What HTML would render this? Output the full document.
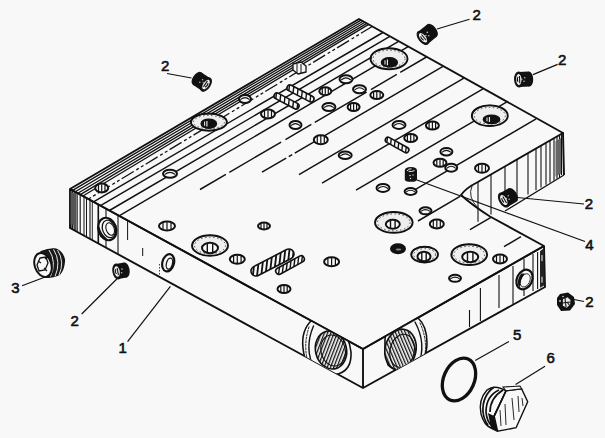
<!DOCTYPE html>
<html><head><meta charset="utf-8"><style>
html,body{margin:0;padding:0;background:#f8f8f8;}
svg{display:block;}
text{font-family:"Liberation Sans",sans-serif;fill:#111;stroke:#111;stroke-width:0.6px;}
</style></head><body>
<svg width="605" height="438" viewBox="0 0 605 438">
<defs><clipPath id="sc1"><rect transform="translate(286.5 101.0) rotate(27.8)" x="-13.7" y="-3.0" width="27.5" height="6.0" rx="3.0"/></clipPath><clipPath id="sc2"><rect transform="translate(300.5 93.5) rotate(27.6)" x="-14.9" y="-3.0" width="29.7" height="6.0" rx="3.0"/></clipPath><clipPath id="sc3"><rect transform="translate(397.0 145.0) rotate(29.1)" x="-13.0" y="-2.8" width="26.1" height="5.5" rx="2.8"/></clipPath><clipPath id="sc4"><rect transform="translate(272.5 262.5) rotate(-27.3)" x="-23.6" y="-5.0" width="47.1" height="10.0" rx="5.0"/></clipPath><clipPath id="sc5"><rect transform="translate(290.0 265.0) rotate(-28.6)" x="-15.8" y="-3.2" width="31.6" height="6.5" rx="3.2"/></clipPath><pattern id="hd1" width="3" height="3" patternUnits="userSpaceOnUse" patternTransform="rotate(35)"><rect width="3" height="3" fill="#f8f8f8"/><rect width="1.3" height="3" fill="#111"/></pattern><pattern id="hd2" width="3" height="3" patternUnits="userSpaceOnUse" patternTransform="rotate(-35)"><rect width="3" height="3" fill="#f8f8f8"/><rect width="1.3" height="3" fill="#111"/></pattern><pattern id="hd3" width="2.6" height="3" patternUnits="userSpaceOnUse" patternTransform="rotate(20)"><rect width="2.6" height="3" fill="#f8f8f8"/><rect width="1.4" height="3" fill="#111"/></pattern><clipPath id="sideclip"><polygon points="70,189 363,349 544,246 545,287 363,388 70,228"/></clipPath></defs>
<rect width="605" height="438" fill="#f8f8f8"/>
<polygon points="70.0,189.0 359.0,19.0 563.0,133.0 477.0,182.5 461.0,195.0 490.0,217.0 544.0,246.0 363.0,349.0" fill="#f8f8f8" stroke="#111" stroke-width="0" stroke-linejoin="round" />
<polygon points="70.0,189.0 363.0,349.0 363.0,388.0 70.0,228.0" fill="#f8f8f8" stroke="#111" stroke-width="0" stroke-linejoin="round" />
<polygon points="363.0,349.0 544.0,246.0 545.0,287.0 363.0,388.0" fill="#f8f8f8" stroke="#111" stroke-width="0" stroke-linejoin="round" />
<line x1="72.6" y1="190.4" x2="361.0" y2="20.1" stroke="#111" stroke-width="1.3" />
<line x1="75.2" y1="191.8" x2="362.9" y2="21.2" stroke="#111" stroke-width="1.3" />
<line x1="77.8" y1="193.2" x2="364.9" y2="22.3" stroke="#111" stroke-width="1.3" />
<line x1="80.3" y1="194.6" x2="366.8" y2="23.4" stroke="#111" stroke-width="1.3" />
<line x1="82.9" y1="196.0" x2="368.7" y2="24.4" stroke="#111" stroke-width="1.3" />
<line x1="88.4" y1="199.0" x2="372.2" y2="26.5" stroke="#111" stroke-width="1.3" stroke-dasharray="3 2.5 3 2.5 14 3"/>
<line x1="93.5" y1="201.8" x2="382.9" y2="32.5" stroke="#111" stroke-width="1.45" />
<line x1="100.5" y1="205.7" x2="389.9" y2="36.4" stroke="#111" stroke-width="1.45" />
<line x1="109.4" y1="210.5" x2="398.6" y2="41.3" stroke="#111" stroke-width="1.45" />
<line x1="119.1" y1="215.8" x2="408.2" y2="46.7" stroke="#111" stroke-width="1.45" />
<line x1="200.0" y1="189.5" x2="426.5" y2="57.0" stroke="#111" stroke-width="1.45" stroke-dasharray="30 4 60 5"/>
<line x1="262.0" y1="172.2" x2="443.0" y2="66.3" stroke="#111" stroke-width="1.45" stroke-dasharray="28 3 4 3 200"/>
<line x1="299.0" y1="174.6" x2="463.9" y2="78.1" stroke="#111" stroke-width="1.45" />
<line x1="322.0" y1="183.1" x2="483.0" y2="88.9" stroke="#111" stroke-width="1.45" />
<line x1="356.0" y1="190.2" x2="506.5" y2="102.2" stroke="#111" stroke-width="1.45" />
<line x1="410.0" y1="192.7" x2="536.1" y2="118.9" stroke="#111" stroke-width="1.45" />
<line x1="418.0" y1="221.0" x2="460.0" y2="196.4" stroke="#111" stroke-width="1.45" />
<line x1="470.0" y1="229.6" x2="491.0" y2="217.3" stroke="#111" stroke-width="1.45" />
<line x1="504.0" y1="246.7" x2="521.0" y2="236.7" stroke="#111" stroke-width="1.45" />
<polyline points="70.0,228.0 70.0,189.0 359.0,19.0 563.0,133.0 564.0,175.0" fill="none" stroke="#111" stroke-width="1.9" stroke-linejoin="round" />
<path d="M563,133 L477,182.5 Q466,188 461,195 Q472,205 490,216.5 L544,246 L545,287 L363,388 L70,228" fill="none" stroke="#111" stroke-width="1.9" stroke-linejoin="round" stroke-linecap="round" />
<polyline points="70.0,189.0 363.0,349.0 544.0,246.0" fill="none" stroke="#111" stroke-width="1.9" stroke-linejoin="round" />
<line x1="363.0" y1="349.0" x2="363.0" y2="388.0" stroke="#111" stroke-width="1.9" />
<line x1="564.0" y1="175.0" x2="505.0" y2="211.0" stroke="#111" stroke-width="1.3" />
<line x1="71.0" y1="190.0" x2="71.0" y2="228.5" stroke="#111" stroke-width="1.3" />
<line x1="72.6" y1="190.9" x2="72.6" y2="229.4" stroke="#111" stroke-width="1.1" />
<line x1="74.2" y1="191.8" x2="74.2" y2="230.3" stroke="#111" stroke-width="1.1" />
<line x1="75.8" y1="192.7" x2="75.8" y2="231.2" stroke="#111" stroke-width="1.0" />
<line x1="77.2" y1="193.4" x2="77.2" y2="231.9" stroke="#111" stroke-width="1.0" />
<line x1="80.2" y1="195.1" x2="80.2" y2="233.6" stroke="#111" stroke-width="1.1" />
<line x1="84.0" y1="197.1" x2="84.0" y2="235.6" stroke="#111" stroke-width="1.0" />
<line x1="86.5" y1="198.5" x2="86.5" y2="237.0" stroke="#111" stroke-width="1.0" />
<line x1="90.0" y1="200.4" x2="90.0" y2="238.9" stroke="#111" stroke-width="1.1" />
<line x1="92.3" y1="201.7" x2="92.3" y2="240.2" stroke="#111" stroke-width="0.9" />
<line x1="98.3" y1="205.0" x2="98.3" y2="243.5" stroke="#111" stroke-width="1.6" />
<polygon points="70.5,191.3 76.0,195.3 76.0,225.3 70.5,224.3" fill="#555" stroke="#111" stroke-width="0" stroke-linejoin="round" />
<line x1="106.0" y1="208.7" x2="106.0" y2="247.7" stroke="#111" stroke-width="1.1" />
<line x1="118.0" y1="215.2" x2="118.0" y2="254.2" stroke="#111" stroke-width="1.1" />
<line x1="127.6" y1="220.5" x2="127.6" y2="240.0" stroke="#111" stroke-width="1.0" />
<line x1="478.0" y1="182.0" x2="478.0" y2="221.7" stroke="#111" stroke-width="1.1" />
<line x1="491.0" y1="174.6" x2="491.0" y2="214.6" stroke="#111" stroke-width="1.1" />
<line x1="505.0" y1="166.6" x2="505.0" y2="207.0" stroke="#111" stroke-width="1.1" />
<line x1="517.0" y1="159.8" x2="517.0" y2="200.5" stroke="#111" stroke-width="1.1" />
<line x1="528.0" y1="153.5" x2="528.0" y2="194.5" stroke="#111" stroke-width="1.1" />
<line x1="536.0" y1="148.9" x2="536.0" y2="190.2" stroke="#111" stroke-width="1.1" />
<line x1="541.0" y1="146.1" x2="541.0" y2="187.5" stroke="#111" stroke-width="1.1" />
<line x1="546.0" y1="143.2" x2="546.0" y2="184.8" stroke="#111" stroke-width="1.1" />
<line x1="550.0" y1="140.9" x2="550.0" y2="182.6" stroke="#111" stroke-width="1.1" />
<line x1="554.0" y1="138.6" x2="554.0" y2="180.4" stroke="#111" stroke-width="1.1" />
<line x1="557.0" y1="136.9" x2="557.0" y2="178.8" stroke="#111" stroke-width="1.1" />
<line x1="559.5" y1="135.5" x2="559.5" y2="177.4" stroke="#111" stroke-width="1.1" />
<line x1="561.5" y1="133.0" x2="561.5" y2="175.0" stroke="#111" stroke-width="1.2" />
<polygon points="555.5,141.3 561.0,138.1 561.0,173.6 555.5,176.6" fill="#666" stroke="#111" stroke-width="0" stroke-linejoin="round" />
<path d="M472,186 Q467,197 478,208" fill="none" stroke="#111" stroke-width="0.9" stroke-linejoin="round" stroke-linecap="round" />
<line x1="469.5" y1="310.0" x2="469.5" y2="327.0" stroke="#111" stroke-width="1.1" />
<line x1="480.4" y1="288.0" x2="480.4" y2="321.0" stroke="#111" stroke-width="1.1" />
<line x1="499.0" y1="275.0" x2="499.0" y2="308.0" stroke="#111" stroke-width="1.1" />
<line x1="513.0" y1="266.0" x2="513.0" y2="304.0" stroke="#111" stroke-width="1.1" />
<line x1="524.0" y1="259.0" x2="524.0" y2="296.0" stroke="#111" stroke-width="1.1" />
<line x1="533.0" y1="254.0" x2="533.0" y2="291.0" stroke="#111" stroke-width="1.1" />
<line x1="537.6" y1="252.0" x2="537.6" y2="289.0" stroke="#111" stroke-width="1.1" />
<line x1="142.7" y1="248.0" x2="142.7" y2="256.0" stroke="#111" stroke-width="1.0" />
<line x1="159.5" y1="264.0" x2="159.5" y2="276.0" stroke="#111" stroke-width="0.8" stroke-dasharray="1.5 1.5"/>
<text x="161" y="70.5" font-size="15">2</text>
<text x="472.5" y="20" font-size="15">2</text>
<text x="558" y="65" font-size="15">2</text>
<text x="584.7" y="209.2" font-size="15">2</text>
<text x="585.2" y="249.5" font-size="15">4</text>
<text x="585.3" y="306.5" font-size="15">2</text>
<text x="11.3" y="293" font-size="15">3</text>
<text x="70.5" y="326" font-size="15">2</text>
<text x="118.5" y="353" font-size="15">1</text>
<text x="513" y="340" font-size="15">5</text>
<text x="546.5" y="363" font-size="15">6</text>
<line x1="167.0" y1="73.5" x2="191.5" y2="78.0" stroke="#111" stroke-width="1.2" />
<line x1="437.0" y1="29.0" x2="469.5" y2="19.3" stroke="#111" stroke-width="1.2" />
<line x1="533.0" y1="74.6" x2="557.6" y2="64.4" stroke="#111" stroke-width="1.2" />
<line x1="512.0" y1="197.0" x2="584.0" y2="204.0" stroke="#111" stroke-width="1.2" />
<line x1="417.0" y1="180.0" x2="585.0" y2="241.5" stroke="#111" stroke-width="1.2" />
<line x1="574.0" y1="299.5" x2="584.0" y2="301.5" stroke="#111" stroke-width="1.2" />
<line x1="22.0" y1="285.8" x2="46.5" y2="276.5" stroke="#111" stroke-width="1.2" />
<line x1="81.7" y1="314.0" x2="116.8" y2="279.0" stroke="#111" stroke-width="1.2" />
<line x1="127.6" y1="341.7" x2="170.4" y2="286.4" stroke="#111" stroke-width="1.2" />
<line x1="475.2" y1="360.4" x2="508.9" y2="341.5" stroke="#111" stroke-width="1.2" />
<line x1="515.6" y1="384.6" x2="545.0" y2="366.3" stroke="#111" stroke-width="1.2" />
<ellipse cx="208.9" cy="122.1" rx="18.0" ry="8.6" fill="#eeeeee" stroke="#111" stroke-width="1.9" />
<ellipse cx="208.9" cy="122.1" rx="15.5" ry="6.6" fill="none" stroke="#111" stroke-width="0.7" stroke-dasharray="1.5 2.5"/>
<path d="M191.4,122.1 A17.5,8.1 0 0 1 217.9,114.78999999999999" fill="none" stroke="#111" stroke-width="1.2" stroke-linejoin="round" stroke-linecap="round" />
<ellipse cx="208.8" cy="123.7" rx="7.7" ry="4.6" fill="#111" stroke="#111" stroke-width="1.4" />
<line x1="206.9" y1="120.9" x2="206.9" y2="126.5" stroke="#f8f8f8" stroke-width="1.1" />
<line x1="204.6" y1="121.6" x2="204.6" y2="125.8" stroke="#f8f8f8" stroke-width="1.0" />
<ellipse cx="389.0" cy="58.7" rx="18.5" ry="10.5" fill="#eeeeee" stroke="#111" stroke-width="1.9" />
<ellipse cx="389.0" cy="58.7" rx="16.0" ry="8.5" fill="none" stroke="#111" stroke-width="0.7" stroke-dasharray="1.5 2.5"/>
<path d="M371.0,58.7 A18.0,10.0 0 0 1 398.25,49.775000000000006" fill="none" stroke="#111" stroke-width="1.2" stroke-linejoin="round" stroke-linecap="round" />
<ellipse cx="389.4" cy="62.4" rx="8.0" ry="4.6" fill="#111" stroke="#111" stroke-width="1.4" />
<line x1="387.4" y1="59.6" x2="387.4" y2="65.2" stroke="#f8f8f8" stroke-width="1.1" />
<line x1="385.0" y1="60.3" x2="385.0" y2="64.5" stroke="#f8f8f8" stroke-width="1.0" />
<ellipse cx="489.8" cy="115.7" rx="18.0" ry="10.3" fill="#eeeeee" stroke="#111" stroke-width="1.9" />
<ellipse cx="489.8" cy="115.7" rx="15.5" ry="8.3" fill="none" stroke="#111" stroke-width="0.7" stroke-dasharray="1.5 2.5"/>
<path d="M472.3,115.7 A17.5,9.8 0 0 1 498.8,106.94500000000001" fill="none" stroke="#111" stroke-width="1.2" stroke-linejoin="round" stroke-linecap="round" />
<ellipse cx="491.5" cy="119.4" rx="8.2" ry="4.2" fill="#111" stroke="#111" stroke-width="1.4" />
<line x1="489.4" y1="116.9" x2="489.4" y2="121.9" stroke="#f8f8f8" stroke-width="1.1" />
<line x1="487.0" y1="117.5" x2="487.0" y2="121.3" stroke="#f8f8f8" stroke-width="1.0" />
<ellipse cx="393.8" cy="222.4" rx="18.8" ry="10.4" fill="#eeeeee" stroke="#111" stroke-width="1.9" />
<ellipse cx="393.8" cy="222.4" rx="16.3" ry="8.4" fill="none" stroke="#111" stroke-width="0.7" stroke-dasharray="1.5 2.5"/>
<path d="M375.5,222.4 A18.3,9.9 0 0 1 403.2,213.56" fill="none" stroke="#111" stroke-width="1.2" stroke-linejoin="round" stroke-linecap="round" />
<ellipse cx="392.8" cy="224.3" rx="7.0" ry="4.5" fill="#f8f8f8" stroke="#111" stroke-width="2.0" />
<line x1="390.5" y1="220.7" x2="390.5" y2="227.9" stroke="#111" stroke-width="1.4" />
<line x1="395.1" y1="220.7" x2="395.1" y2="227.9" stroke="#111" stroke-width="1.4" />
<ellipse cx="210.0" cy="245.5" rx="18.0" ry="10.3" fill="#eeeeee" stroke="#111" stroke-width="1.9" />
<ellipse cx="210.0" cy="245.5" rx="15.5" ry="8.3" fill="none" stroke="#111" stroke-width="0.7" stroke-dasharray="1.5 2.5"/>
<path d="M192.5,245.5 A17.5,9.8 0 0 1 219.0,236.745" fill="none" stroke="#111" stroke-width="1.2" stroke-linejoin="round" stroke-linecap="round" />
<ellipse cx="210.0" cy="248.0" rx="8.0" ry="5.2" fill="#f8f8f8" stroke="#111" stroke-width="2.0" />
<line x1="207.3" y1="243.8" x2="207.3" y2="252.2" stroke="#111" stroke-width="1.4" />
<line x1="212.7" y1="243.8" x2="212.7" y2="252.2" stroke="#111" stroke-width="1.4" />
<ellipse cx="424.6" cy="254.6" rx="13.4" ry="7.9" fill="#eeeeee" stroke="#111" stroke-width="1.9" />
<ellipse cx="424.6" cy="254.6" rx="10.9" ry="5.9" fill="none" stroke="#111" stroke-width="0.7" stroke-dasharray="1.5 2.5"/>
<path d="M411.70000000000005,254.6 A12.9,7.4 0 0 1 431.3,247.885" fill="none" stroke="#111" stroke-width="1.2" stroke-linejoin="round" stroke-linecap="round" />
<ellipse cx="424.0" cy="256.5" rx="6.5" ry="4.8" fill="#f8f8f8" stroke="#111" stroke-width="2.0" />
<line x1="421.8" y1="252.7" x2="421.8" y2="260.3" stroke="#111" stroke-width="1.4" />
<line x1="426.2" y1="252.7" x2="426.2" y2="260.3" stroke="#111" stroke-width="1.4" />
<ellipse cx="469.2" cy="254.6" rx="17.9" ry="10.4" fill="#eeeeee" stroke="#111" stroke-width="1.9" />
<ellipse cx="469.2" cy="254.6" rx="15.4" ry="8.4" fill="none" stroke="#111" stroke-width="0.7" stroke-dasharray="1.5 2.5"/>
<path d="M451.8,254.6 A17.4,9.9 0 0 1 478.15,245.76" fill="none" stroke="#111" stroke-width="1.2" stroke-linejoin="round" stroke-linecap="round" />
<ellipse cx="470.2" cy="257.0" rx="8.0" ry="5.2" fill="#f8f8f8" stroke="#111" stroke-width="2.0" />
<line x1="467.5" y1="252.8" x2="467.5" y2="261.2" stroke="#111" stroke-width="1.4" />
<line x1="472.9" y1="252.8" x2="472.9" y2="261.2" stroke="#111" stroke-width="1.4" />
<ellipse cx="101.7" cy="188.0" rx="6.5" ry="4.5" fill="#f8f8f8" stroke="#111" stroke-width="2.0" />
<line x1="98.5" y1="184.7" x2="98.5" y2="191.3" stroke="#111" stroke-width="1.2" />
<line x1="101.7" y1="184.2" x2="101.7" y2="191.8" stroke="#111" stroke-width="1.2" />
<line x1="105.0" y1="184.7" x2="105.0" y2="191.3" stroke="#111" stroke-width="1.2" />
<ellipse cx="170.0" cy="173.8" rx="7.0" ry="4.0" fill="#f8f8f8" stroke="#111" stroke-width="2.0" />
<path d="M165.1,174.20000000000002 Q170,170.60000000000002 174.9,174.20000000000002" fill="none" stroke="#111" stroke-width="1.1" stroke-linejoin="round" stroke-linecap="round" />
<ellipse cx="167.0" cy="226.0" rx="8.0" ry="4.5" fill="#f8f8f8" stroke="#111" stroke-width="2.0" />
<line x1="163.0" y1="222.7" x2="163.0" y2="229.3" stroke="#111" stroke-width="1.2" />
<line x1="167.0" y1="222.2" x2="167.0" y2="229.8" stroke="#111" stroke-width="1.2" />
<line x1="171.0" y1="222.7" x2="171.0" y2="229.3" stroke="#111" stroke-width="1.2" />
<ellipse cx="245.0" cy="99.0" rx="6.0" ry="4.0" fill="#f8f8f8" stroke="#111" stroke-width="2.0" />
<path d="M240.8,99.4 Q245,95.8 249.2,99.4" fill="none" stroke="#111" stroke-width="1.1" stroke-linejoin="round" stroke-linecap="round" />
<ellipse cx="268.0" cy="114.0" rx="7.0" ry="4.5" fill="#f8f8f8" stroke="#111" stroke-width="2.0" />
<line x1="264.5" y1="110.7" x2="264.5" y2="117.3" stroke="#111" stroke-width="1.2" />
<line x1="268.0" y1="110.2" x2="268.0" y2="117.8" stroke="#111" stroke-width="1.2" />
<line x1="271.5" y1="110.7" x2="271.5" y2="117.3" stroke="#111" stroke-width="1.2" />
<ellipse cx="295.5" cy="125.0" rx="6.0" ry="4.0" fill="#f8f8f8" stroke="#111" stroke-width="2.0" />
<path d="M291.3,125.4 Q295.5,121.8 299.7,125.4" fill="none" stroke="#111" stroke-width="1.1" stroke-linejoin="round" stroke-linecap="round" />
<ellipse cx="325.3" cy="91.2" rx="6.0" ry="4.0" fill="#f8f8f8" stroke="#111" stroke-width="2.0" />
<line x1="322.3" y1="88.3" x2="322.3" y2="94.1" stroke="#111" stroke-width="1.2" />
<line x1="325.3" y1="87.8" x2="325.3" y2="94.6" stroke="#111" stroke-width="1.2" />
<line x1="328.3" y1="88.3" x2="328.3" y2="94.1" stroke="#111" stroke-width="1.2" />
<ellipse cx="328.9" cy="107.0" rx="6.5" ry="4.0" fill="#f8f8f8" stroke="#111" stroke-width="2.0" />
<path d="M324.34999999999997,107.4 Q328.9,103.8 333.45,107.4" fill="none" stroke="#111" stroke-width="1.1" stroke-linejoin="round" stroke-linecap="round" />
<ellipse cx="320.8" cy="139.8" rx="7.0" ry="4.5" fill="#f8f8f8" stroke="#111" stroke-width="2.0" />
<line x1="317.3" y1="136.5" x2="317.3" y2="143.1" stroke="#111" stroke-width="1.2" />
<line x1="320.8" y1="136.0" x2="320.8" y2="143.6" stroke="#111" stroke-width="1.2" />
<line x1="324.3" y1="136.5" x2="324.3" y2="143.1" stroke="#111" stroke-width="1.2" />
<ellipse cx="346.0" cy="79.3" rx="6.5" ry="4.0" fill="#f8f8f8" stroke="#111" stroke-width="2.0" />
<path d="M341.45,79.7 Q346,76.1 350.55,79.7" fill="none" stroke="#111" stroke-width="1.1" stroke-linejoin="round" stroke-linecap="round" />
<ellipse cx="345.2" cy="155.2" rx="6.5" ry="3.8" fill="#f8f8f8" stroke="#111" stroke-width="2.0" />
<path d="M340.65,155.57999999999998 Q345.2,152.16 349.75,155.57999999999998" fill="none" stroke="#111" stroke-width="1.1" stroke-linejoin="round" stroke-linecap="round" />
<ellipse cx="359.5" cy="89.2" rx="6.5" ry="4.0" fill="#f8f8f8" stroke="#111" stroke-width="2.0" />
<path d="M354.95,89.60000000000001 Q359.5,86.0 364.05,89.60000000000001" fill="none" stroke="#111" stroke-width="1.1" stroke-linejoin="round" stroke-linecap="round" />
<ellipse cx="376.8" cy="95.1" rx="6.5" ry="4.0" fill="#f8f8f8" stroke="#111" stroke-width="2.0" />
<line x1="373.6" y1="92.2" x2="373.6" y2="98.0" stroke="#111" stroke-width="1.2" />
<line x1="376.8" y1="91.7" x2="376.8" y2="98.5" stroke="#111" stroke-width="1.2" />
<line x1="380.1" y1="92.2" x2="380.1" y2="98.0" stroke="#111" stroke-width="1.2" />
<ellipse cx="353.6" cy="107.0" rx="6.0" ry="4.0" fill="#f8f8f8" stroke="#111" stroke-width="2.0" />
<line x1="350.6" y1="104.1" x2="350.6" y2="109.9" stroke="#111" stroke-width="1.2" />
<line x1="353.6" y1="103.6" x2="353.6" y2="110.4" stroke="#111" stroke-width="1.2" />
<line x1="356.6" y1="104.1" x2="356.6" y2="109.9" stroke="#111" stroke-width="1.2" />
<ellipse cx="399.0" cy="124.9" rx="6.5" ry="4.0" fill="#f8f8f8" stroke="#111" stroke-width="2.0" />
<path d="M394.45,125.30000000000001 Q399,121.7 403.55,125.30000000000001" fill="none" stroke="#111" stroke-width="1.1" stroke-linejoin="round" stroke-linecap="round" />
<ellipse cx="432.4" cy="125.5" rx="6.5" ry="4.0" fill="#f8f8f8" stroke="#111" stroke-width="2.0" />
<line x1="429.1" y1="122.6" x2="429.1" y2="128.4" stroke="#111" stroke-width="1.2" />
<line x1="432.4" y1="122.1" x2="432.4" y2="128.9" stroke="#111" stroke-width="1.2" />
<line x1="435.6" y1="122.6" x2="435.6" y2="128.4" stroke="#111" stroke-width="1.2" />
<ellipse cx="410.7" cy="138.0" rx="6.5" ry="4.0" fill="#f8f8f8" stroke="#111" stroke-width="2.0" />
<line x1="407.4" y1="135.1" x2="407.4" y2="140.9" stroke="#111" stroke-width="1.2" />
<line x1="410.7" y1="134.6" x2="410.7" y2="141.4" stroke="#111" stroke-width="1.2" />
<line x1="413.9" y1="135.1" x2="413.9" y2="140.9" stroke="#111" stroke-width="1.2" />
<ellipse cx="446.4" cy="151.7" rx="6.0" ry="3.8" fill="#f8f8f8" stroke="#111" stroke-width="2.0" />
<path d="M442.2,152.07999999999998 Q446.4,148.66 450.59999999999997,152.07999999999998" fill="none" stroke="#111" stroke-width="1.1" stroke-linejoin="round" stroke-linecap="round" />
<ellipse cx="440.0" cy="162.7" rx="6.5" ry="4.0" fill="#f8f8f8" stroke="#111" stroke-width="2.0" />
<line x1="436.8" y1="159.8" x2="436.8" y2="165.6" stroke="#111" stroke-width="1.2" />
<line x1="440.0" y1="159.3" x2="440.0" y2="166.1" stroke="#111" stroke-width="1.2" />
<line x1="443.2" y1="159.8" x2="443.2" y2="165.6" stroke="#111" stroke-width="1.2" />
<ellipse cx="451.2" cy="167.7" rx="6.0" ry="4.0" fill="#f8f8f8" stroke="#111" stroke-width="2.0" />
<path d="M447.0,168.1 Q451.2,164.5 455.4,168.1" fill="none" stroke="#111" stroke-width="1.1" stroke-linejoin="round" stroke-linecap="round" />
<ellipse cx="482.0" cy="168.3" rx="7.0" ry="4.5" fill="#f8f8f8" stroke="#111" stroke-width="2.0" />
<line x1="478.5" y1="165.0" x2="478.5" y2="171.6" stroke="#111" stroke-width="1.2" />
<line x1="482.0" y1="164.5" x2="482.0" y2="172.1" stroke="#111" stroke-width="1.2" />
<line x1="485.5" y1="165.0" x2="485.5" y2="171.6" stroke="#111" stroke-width="1.2" />
<ellipse cx="383.0" cy="187.9" rx="6.5" ry="4.0" fill="#f8f8f8" stroke="#111" stroke-width="2.0" />
<path d="M378.45,188.3 Q383,184.70000000000002 387.55,188.3" fill="none" stroke="#111" stroke-width="1.1" stroke-linejoin="round" stroke-linecap="round" />
<ellipse cx="410.6" cy="191.5" rx="6.0" ry="3.5" fill="#f8f8f8" stroke="#111" stroke-width="2.0" />
<path d="M406.40000000000003,191.85 Q410.6,188.7 414.8,191.85" fill="none" stroke="#111" stroke-width="1.1" stroke-linejoin="round" stroke-linecap="round" />
<ellipse cx="425.5" cy="210.8" rx="6.0" ry="3.5" fill="#f8f8f8" stroke="#111" stroke-width="2.0" />
<path d="M421.3,211.15 Q425.5,208.0 429.7,211.15" fill="none" stroke="#111" stroke-width="1.1" stroke-linejoin="round" stroke-linecap="round" />
<ellipse cx="436.8" cy="224.0" rx="7.0" ry="4.5" fill="#f8f8f8" stroke="#111" stroke-width="2.0" />
<line x1="433.3" y1="220.7" x2="433.3" y2="227.3" stroke="#111" stroke-width="1.2" />
<line x1="436.8" y1="220.2" x2="436.8" y2="227.8" stroke="#111" stroke-width="1.2" />
<line x1="440.3" y1="220.7" x2="440.3" y2="227.3" stroke="#111" stroke-width="1.2" />
<ellipse cx="398.0" cy="248.7" rx="7.0" ry="4.5" fill="#111" stroke="#111" stroke-width="2.0" />
<ellipse cx="398.5" cy="249.5" rx="2.8" ry="1.1" fill="#888" stroke="#111" stroke-width="0" />
<ellipse cx="500.0" cy="259.0" rx="7.0" ry="4.5" fill="#f8f8f8" stroke="#111" stroke-width="2.0" />
<line x1="496.5" y1="255.7" x2="496.5" y2="262.3" stroke="#111" stroke-width="1.2" />
<line x1="500.0" y1="255.2" x2="500.0" y2="262.8" stroke="#111" stroke-width="1.2" />
<line x1="503.5" y1="255.7" x2="503.5" y2="262.3" stroke="#111" stroke-width="1.2" />
<ellipse cx="455.0" cy="278.3" rx="6.0" ry="3.5" fill="#f8f8f8" stroke="#111" stroke-width="2.0" />
<path d="M450.8,278.65000000000003 Q455,275.5 459.2,278.65000000000003" fill="none" stroke="#111" stroke-width="1.1" stroke-linejoin="round" stroke-linecap="round" />
<ellipse cx="264.0" cy="226.0" rx="6.0" ry="3.5" fill="#f8f8f8" stroke="#111" stroke-width="2.0" />
<line x1="261.0" y1="223.4" x2="261.0" y2="228.6" stroke="#111" stroke-width="1.2" />
<line x1="264.0" y1="223.0" x2="264.0" y2="229.0" stroke="#111" stroke-width="1.2" />
<line x1="267.0" y1="223.4" x2="267.0" y2="228.6" stroke="#111" stroke-width="1.2" />
<ellipse cx="237.3" cy="259.3" rx="7.5" ry="4.5" fill="#f8f8f8" stroke="#111" stroke-width="2.0" />
<line x1="233.6" y1="256.0" x2="233.6" y2="262.6" stroke="#111" stroke-width="1.2" />
<line x1="237.3" y1="255.5" x2="237.3" y2="263.1" stroke="#111" stroke-width="1.2" />
<line x1="241.1" y1="256.0" x2="241.1" y2="262.6" stroke="#111" stroke-width="1.2" />
<ellipse cx="284.0" cy="289.0" rx="6.5" ry="4.0" fill="#f8f8f8" stroke="#111" stroke-width="2.0" />
<line x1="280.8" y1="286.1" x2="280.8" y2="291.9" stroke="#111" stroke-width="1.2" />
<line x1="284.0" y1="285.6" x2="284.0" y2="292.4" stroke="#111" stroke-width="1.2" />
<line x1="287.2" y1="286.1" x2="287.2" y2="291.9" stroke="#111" stroke-width="1.2" />
<ellipse cx="331.6" cy="261.7" rx="7.5" ry="4.5" fill="#f8f8f8" stroke="#111" stroke-width="2.0" />
<line x1="327.9" y1="258.4" x2="327.9" y2="265.0" stroke="#111" stroke-width="1.2" />
<line x1="331.6" y1="257.9" x2="331.6" y2="265.5" stroke="#111" stroke-width="1.2" />
<line x1="335.4" y1="258.4" x2="335.4" y2="265.0" stroke="#111" stroke-width="1.2" />
<g transform="translate(286.5 101.0) rotate(27.8)"><rect x="-13.7" y="-3.0" width="27.5" height="6.0" rx="3.0" fill="#f8f8f8"/></g><g clip-path="url(#sc1)"><line x1="272.3" y1="90.0" x2="269.7" y2="112.0" stroke="#111" stroke-width="1.4"/><line x1="276.8" y1="90.0" x2="274.2" y2="112.0" stroke="#111" stroke-width="1.4"/><line x1="281.3" y1="90.0" x2="278.7" y2="112.0" stroke="#111" stroke-width="1.4"/><line x1="285.8" y1="90.0" x2="283.2" y2="112.0" stroke="#111" stroke-width="1.4"/><line x1="290.3" y1="90.0" x2="287.7" y2="112.0" stroke="#111" stroke-width="1.4"/><line x1="294.8" y1="90.0" x2="292.2" y2="112.0" stroke="#111" stroke-width="1.4"/><line x1="299.3" y1="90.0" x2="296.7" y2="112.0" stroke="#111" stroke-width="1.4"/></g><g transform="translate(286.5 101.0) rotate(27.8)"><rect x="-13.7" y="-3.0" width="27.5" height="6.0" rx="3.0" fill="none" stroke="#111" stroke-width="1.6"/></g>
<g transform="translate(300.5 93.5) rotate(27.6)"><rect x="-14.9" y="-3.0" width="29.7" height="6.0" rx="3.0" fill="#f8f8f8"/></g><g clip-path="url(#sc2)"><line x1="285.4" y1="82.0" x2="282.6" y2="105.0" stroke="#111" stroke-width="1.4"/><line x1="289.9" y1="82.0" x2="287.1" y2="105.0" stroke="#111" stroke-width="1.4"/><line x1="294.4" y1="82.0" x2="291.6" y2="105.0" stroke="#111" stroke-width="1.4"/><line x1="298.9" y1="82.0" x2="296.1" y2="105.0" stroke="#111" stroke-width="1.4"/><line x1="303.4" y1="82.0" x2="300.6" y2="105.0" stroke="#111" stroke-width="1.4"/><line x1="307.9" y1="82.0" x2="305.1" y2="105.0" stroke="#111" stroke-width="1.4"/><line x1="312.4" y1="82.0" x2="309.6" y2="105.0" stroke="#111" stroke-width="1.4"/><line x1="316.9" y1="82.0" x2="314.1" y2="105.0" stroke="#111" stroke-width="1.4"/></g><g transform="translate(300.5 93.5) rotate(27.6)"><rect x="-14.9" y="-3.0" width="29.7" height="6.0" rx="3.0" fill="none" stroke="#111" stroke-width="1.6"/></g>
<g transform="translate(397.0 145.0) rotate(29.1)"><rect x="-13.0" y="-2.8" width="26.1" height="5.5" rx="2.8" fill="#f8f8f8"/></g><g clip-path="url(#sc3)"><line x1="383.8" y1="134.5" x2="381.2" y2="155.5" stroke="#111" stroke-width="1.4"/><line x1="387.8" y1="134.5" x2="385.2" y2="155.5" stroke="#111" stroke-width="1.4"/><line x1="391.8" y1="134.5" x2="389.2" y2="155.5" stroke="#111" stroke-width="1.4"/><line x1="395.8" y1="134.5" x2="393.2" y2="155.5" stroke="#111" stroke-width="1.4"/><line x1="399.8" y1="134.5" x2="397.2" y2="155.5" stroke="#111" stroke-width="1.4"/><line x1="403.8" y1="134.5" x2="401.2" y2="155.5" stroke="#111" stroke-width="1.4"/><line x1="407.8" y1="134.5" x2="405.2" y2="155.5" stroke="#111" stroke-width="1.4"/><line x1="411.8" y1="134.5" x2="409.2" y2="155.5" stroke="#111" stroke-width="1.4"/></g><g transform="translate(397.0 145.0) rotate(29.1)"><rect x="-13.0" y="-2.8" width="26.1" height="5.5" rx="2.8" fill="none" stroke="#111" stroke-width="1.6"/></g>
<g transform="translate(272.5 262.5) rotate(-27.3)"><rect x="-23.6" y="-5.0" width="47.1" height="10.0" rx="5.0" fill="#f8f8f8"/></g><g clip-path="url(#sc4)"><line x1="248.2" y1="244.0" x2="243.8" y2="281.0" stroke="#111" stroke-width="1.8"/><line x1="252.4" y1="244.0" x2="248.0" y2="281.0" stroke="#111" stroke-width="1.8"/><line x1="256.6" y1="244.0" x2="252.2" y2="281.0" stroke="#111" stroke-width="1.8"/><line x1="260.8" y1="244.0" x2="256.4" y2="281.0" stroke="#111" stroke-width="1.8"/><line x1="265.0" y1="244.0" x2="260.6" y2="281.0" stroke="#111" stroke-width="1.8"/><line x1="269.2" y1="244.0" x2="264.8" y2="281.0" stroke="#111" stroke-width="1.8"/><line x1="273.4" y1="244.0" x2="269.0" y2="281.0" stroke="#111" stroke-width="1.8"/><line x1="277.6" y1="244.0" x2="273.2" y2="281.0" stroke="#111" stroke-width="1.8"/><line x1="281.8" y1="244.0" x2="277.4" y2="281.0" stroke="#111" stroke-width="1.8"/><line x1="286.0" y1="244.0" x2="281.6" y2="281.0" stroke="#111" stroke-width="1.8"/><line x1="290.2" y1="244.0" x2="285.8" y2="281.0" stroke="#111" stroke-width="1.8"/><line x1="294.4" y1="244.0" x2="290.0" y2="281.0" stroke="#111" stroke-width="1.8"/><line x1="298.6" y1="244.0" x2="294.2" y2="281.0" stroke="#111" stroke-width="1.8"/></g><g transform="translate(272.5 262.5) rotate(-27.3)"><rect x="-23.6" y="-5.0" width="47.1" height="10.0" rx="5.0" fill="none" stroke="#111" stroke-width="1.6"/></g>
<g transform="translate(290.0 265.0) rotate(-28.6)"><rect x="-15.8" y="-3.2" width="31.6" height="6.5" rx="3.2" fill="#f8f8f8"/></g><g clip-path="url(#sc5)"><line x1="274.0" y1="252.5" x2="271.0" y2="277.5" stroke="#111" stroke-width="1.4"/><line x1="277.6" y1="252.5" x2="274.6" y2="277.5" stroke="#111" stroke-width="1.4"/><line x1="281.2" y1="252.5" x2="278.2" y2="277.5" stroke="#111" stroke-width="1.4"/><line x1="284.8" y1="252.5" x2="281.8" y2="277.5" stroke="#111" stroke-width="1.4"/><line x1="288.4" y1="252.5" x2="285.4" y2="277.5" stroke="#111" stroke-width="1.4"/><line x1="292.0" y1="252.5" x2="289.0" y2="277.5" stroke="#111" stroke-width="1.4"/><line x1="295.6" y1="252.5" x2="292.6" y2="277.5" stroke="#111" stroke-width="1.4"/><line x1="299.2" y1="252.5" x2="296.2" y2="277.5" stroke="#111" stroke-width="1.4"/><line x1="302.8" y1="252.5" x2="299.8" y2="277.5" stroke="#111" stroke-width="1.4"/><line x1="306.4" y1="252.5" x2="303.4" y2="277.5" stroke="#111" stroke-width="1.4"/></g><g transform="translate(290.0 265.0) rotate(-28.6)"><rect x="-15.8" y="-3.2" width="31.6" height="6.5" rx="3.2" fill="none" stroke="#111" stroke-width="1.6"/></g>
<polygon points="293.0,64.0 301.0,62.0 306.0,66.0 306.0,72.0 298.0,74.0 293.0,70.0" fill="#f8f8f8" stroke="#111" stroke-width="1.3" stroke-linejoin="round" />
<line x1="297.0" y1="64.0" x2="297.0" y2="73.0" stroke="#111" stroke-width="1.0" />
<line x1="301.0" y1="64.0" x2="301.0" y2="73.0" stroke="#111" stroke-width="1.0" />
<g clip-path="url(#sideclip)">
<path d="M312,320 Q301,330 303,348 Q305,368 318,372 L338,374 Q352,370 351,352 Q349,336 340,326 Z" fill="#f8f8f8" stroke="#111" stroke-width="1.6" stroke-linejoin="round" stroke-linecap="round" />
<path d="M313.5,326 Q304,348 314,368" fill="none" stroke="#111" stroke-width="1.4" stroke-linejoin="round" stroke-linecap="round" />
<path d="M309,327 Q302,348 310,368" fill="none" stroke="#111" stroke-width="0.9" stroke-linejoin="round" stroke-linecap="round" stroke-dasharray="2 1.5"/>
<g transform="rotate(-14 331 350)"><ellipse cx="331" cy="350" rx="15.5" ry="19.2" fill="url(#hd1)" stroke="#111" stroke-width="1.6"/><ellipse cx="332.9" cy="351.0" rx="12.1" ry="15.7" fill="none" stroke="#111" stroke-width="1.1"/></g>
<path d="M386,330 Q383,350 388,365 Q395,372 404,371 L414,367 Q427,360 427,343 Q427,326 418,318 Z" fill="#f8f8f8" stroke="#111" stroke-width="1.6" stroke-linejoin="round" stroke-linecap="round" />
<path d="M415,322 Q427,344 418,366" fill="none" stroke="#111" stroke-width="1.4" stroke-linejoin="round" stroke-linecap="round" />
<path d="M420,323 Q430,345 422,365" fill="none" stroke="#111" stroke-width="0.9" stroke-linejoin="round" stroke-linecap="round" stroke-dasharray="2 1.5"/>
<g transform="rotate(12 400.5 349.5)"><ellipse cx="400.5" cy="349.5" rx="15.5" ry="20.5" fill="url(#hd2)" stroke="#111" stroke-width="1.6"/><ellipse cx="402.4" cy="350.5" rx="12.1" ry="16.8" fill="none" stroke="#111" stroke-width="1.1"/></g>
</g>
<line x1="70.0" y1="189.0" x2="363.0" y2="349.0" stroke="#111" stroke-width="1.9" />
<line x1="363.0" y1="349.0" x2="544.0" y2="246.0" stroke="#111" stroke-width="1.9" />
<g transform="rotate(-20 107.3 229)"><ellipse cx="107.3" cy="229" rx="8.8" ry="11.5" fill="#f8f8f8" stroke="#111" stroke-width="2.2"/><ellipse cx="108.8" cy="229.5" rx="6.3" ry="9" fill="none" stroke="#111" stroke-width="1.3"/><ellipse cx="110" cy="230" rx="4" ry="6.5" fill="none" stroke="#111" stroke-width="1.1"/><path d="M100,224 Q99,232 103,238" stroke="#111" stroke-width="1.5" fill="none"/></g>
<g transform="rotate(25 524.5 279.5)"><ellipse cx="524.5" cy="279.5" rx="7.6" ry="10.2" fill="#f8f8f8" stroke="#111" stroke-width="2.2"/><path d="M519.5,276 Q518,284 523,288 Q520,282 521.5,275 Z" fill="#111" stroke="#111" stroke-width="1.2"/><ellipse cx="525.5" cy="280" rx="4.6" ry="7" fill="none" stroke="#111" stroke-width="0.8"/></g>
<polygon points="540.0,251.3 544.0,248.0 544.5,285.3 540.0,287.8" fill="#222" stroke="#111" stroke-width="0" stroke-linejoin="round" />
<line x1="542.0" y1="255.1" x2="542.0" y2="261.1" stroke="#f8f8f8" stroke-width="1" />
<line x1="542.0" y1="276.7" x2="542.0" y2="282.7" stroke="#f8f8f8" stroke-width="1" />
<g transform="rotate(15 168.2 262.8)"><ellipse cx="168.2" cy="262.8" rx="5.8" ry="8.8" fill="#f8f8f8" stroke="#111" stroke-width="2.2"/><ellipse cx="169.6" cy="263.3" rx="3" ry="5.6" fill="none" stroke="#111" stroke-width="1.3"/></g>
<g><ellipse cx="197" cy="78.5" rx="4.2" ry="7.6" transform="rotate(33.7 197 78.5)" fill="#111"/><polygon points="192.8,84.8 201.8,90.8 210.2,78.2 201.2,72.2" fill="#111"/><ellipse cx="206" cy="84.5" rx="4.2" ry="7.6" transform="rotate(33.7 206 84.5)" fill="#111" stroke="#111" stroke-width="1"/><g transform="translate(206 84.5) rotate(33.7)"><ellipse cx="0" cy="0" rx="2.7" ry="5.5" fill="#eeeeee"/><path d="M-0.8,-3.8 L-0.8,3.4 M1.0,-2.3 Q2.1,0 0.8,2.7" stroke="#111" stroke-width="1.1" fill="none"/></g><circle cx="202.6" cy="79.8" r="0.8" fill="#bbb"/><circle cx="199.8" cy="82.2" r="0.8" fill="#bbb"/><circle cx="203.2" cy="82.6" r="0.7" fill="#bbb"/></g>
<g><ellipse cx="432" cy="30.5" rx="4.3" ry="7.8" transform="rotate(141.0 432 30.5)" fill="#111"/><polygon points="427.1,24.4 418.1,31.7 427.9,43.9 436.9,36.6" fill="#111"/><ellipse cx="423" cy="37.8" rx="4.3" ry="7.8" transform="rotate(141.0 423 37.8)" fill="#111" stroke="#111" stroke-width="1"/><g transform="translate(423 37.8) rotate(141.0)"><ellipse cx="0" cy="0" rx="2.8" ry="5.6" fill="#eeeeee"/><path d="M-0.9,-3.9 L-0.9,3.5 M1.1,-2.3 Q2.1,0 0.9,2.7" stroke="#111" stroke-width="1.1" fill="none"/></g><circle cx="428.8" cy="35.7" r="0.8" fill="#bbb"/><circle cx="427.3" cy="32.4" r="0.8" fill="#bbb"/><circle cx="425.9" cy="35.4" r="0.7" fill="#bbb"/></g>
<g><ellipse cx="529" cy="79" rx="4.2" ry="7.6" transform="rotate(177.2 529 79)" fill="#111"/><polygon points="528.6,71.4 518.4,71.9 519.2,87.1 529.4,86.6" fill="#111"/><ellipse cx="518.8" cy="79.5" rx="4.2" ry="7.6" transform="rotate(177.2 518.8 79.5)" fill="#111" stroke="#111" stroke-width="1"/><g transform="translate(518.8 79.5) rotate(177.2)"><ellipse cx="0" cy="0" rx="2.7" ry="5.5" fill="#eeeeee"/><path d="M-0.8,-3.8 L-0.8,3.4 M1.0,-2.3 Q2.1,0 0.8,2.7" stroke="#111" stroke-width="1.1" fill="none"/></g><circle cx="524.0" cy="81.2" r="0.8" fill="#bbb"/><circle cx="524.8" cy="77.7" r="0.8" fill="#bbb"/><circle cx="521.9" cy="79.3" r="0.7" fill="#bbb"/></g>
<g><ellipse cx="512.5" cy="195" rx="4.3" ry="7.8" transform="rotate(150.1 512.5 195)" fill="#111"/><polygon points="508.6,188.2 499.9,193.2 507.7,206.8 516.4,201.8" fill="#111"/><ellipse cx="503.8" cy="200" rx="4.3" ry="7.8" transform="rotate(150.1 503.8 200)" fill="#111" stroke="#111" stroke-width="1"/><g transform="translate(503.8 200) rotate(150.1)"><ellipse cx="0" cy="0" rx="2.8" ry="5.6" fill="#eeeeee"/><path d="M-0.9,-3.9 L-0.9,3.5 M1.1,-2.3 Q2.1,0 0.9,2.7" stroke="#111" stroke-width="1.1" fill="none"/></g><circle cx="509.1" cy="199.2" r="0.8" fill="#bbb"/><circle cx="508.3" cy="195.7" r="0.8" fill="#bbb"/><circle cx="506.4" cy="198.5" r="0.7" fill="#bbb"/></g>
<g><ellipse cx="125.5" cy="270" rx="4.1" ry="7.5" transform="rotate(170.0 125.5 270)" fill="#111"/><polygon points="124.2,262.6 115.7,264.1 118.3,278.9 126.8,277.4" fill="#111"/><ellipse cx="117" cy="271.5" rx="4.1" ry="7.5" transform="rotate(170.0 117 271.5)" fill="#111" stroke="#111" stroke-width="1"/><g transform="translate(117 271.5) rotate(170.0)"><ellipse cx="0" cy="0" rx="2.7" ry="5.4" fill="#eeeeee"/><path d="M-0.8,-3.8 L-0.8,3.4 M1.0,-2.2 Q2.1,0 0.8,2.6" stroke="#111" stroke-width="1.1" fill="none"/></g><circle cx="121.6" cy="272.7" r="0.8" fill="#bbb"/><circle cx="122.0" cy="269.1" r="0.8" fill="#bbb"/><circle cx="119.3" cy="271.1" r="0.7" fill="#bbb"/></g>
<g><polygon points="560,294 568,292.5 574,297 575,304 570,310.5 561,311 557,305 557,298" fill="#111"/><path d="M562.5,299 l5,-2 l3.5,3 l-0.5,5 l-4,3 l-4,-2 Z" fill="#e8e8e8" stroke="#111" stroke-width="0.8"/><path d="M565,298 l1,9 M562.5,303 l8,-1 M567,302 l3,4" stroke="#111" stroke-width="1.1"/><circle cx="560" cy="301" r="0.9" fill="#ddd"/><circle cx="563" cy="296.5" r="0.8" fill="#ddd"/></g>
<g><path d="M404.8,170.5 Q404.8,167 411,167 Q417,167 417,170.5 L417,179.5 Q417,181.8 411,181.8 Q404.8,181.8 404.8,179.5 Z" fill="#141414"/><path d="M407,171 Q408,168.6 411.5,168.8 M408.5,171.2 Q411,172.2 414.5,170.6" stroke="#eee" stroke-width="1" fill="none"/><circle cx="410" cy="175.5" r="0.8" fill="#ddd"/><circle cx="413" cy="175" r="0.7" fill="#ddd"/><circle cx="410.5" cy="178.5" r="0.7" fill="#ddd"/></g>
<g>
<path d="M41,251.5 Q50,248 56,249 Q63,252 64.5,260 Q64,270 59.5,274.5 Q54,277.5 48,277.5 L44,276 Z" fill="#1a1a1a" stroke="#111" stroke-width="1.2"/>
<path d="M49,250 Q57,262 50.5,276.5 M53.5,249.3 Q61.5,262 55,276.5 M57.5,250 Q65,262 59,275" stroke="#e8e8e8" stroke-width="1.0" fill="none"/>
<g transform="rotate(-18 43 265)"><ellipse cx="43" cy="265" rx="8.3" ry="12.3" fill="#f8f8f8" stroke="#111" stroke-width="2"/></g>
<path d="M40,258 L46,257 L48,263 L45,270 L39,271 L37,265 Z" fill="none" stroke="#111" stroke-width="1.3"/>
<path d="M38,261 l3,2 M44,268 l3,3 M45,259 l2,-2" stroke="#111" stroke-width="1.2"/>
</g>
<ellipse cx="459.0" cy="379.5" rx="15.3" ry="22.4" fill="none" stroke="#111" stroke-width="3.3" transform="rotate(24 459 379.5)" />
<g>
<path d="M506,391 Q495,384 487,390 Q478,400 481,414 Q484,425 491,428 L497,431 L494,416 Z" fill="#f8f8f8" stroke="#111" stroke-width="1.4"/>
<path d="M499,390 Q486,396 486,412 Q487,422 492,426 M503,390 Q490,398 490,412 M494,387 Q482,396 483,412 Q484,420 488,425" stroke="#111" stroke-width="1.7" fill="none"/>
<path d="M488,413 L494,416 L497,431 L491,428 Z" fill="#111"/>
<path d="M506,390.8 L521.6,388.7 L527.7,401.7 L516.1,427.7 L497.6,431.2 L494.2,416.1 Z" fill="#f8f8f8" stroke="#111" stroke-width="1.4"/>
<path d="M503,387 L520,386 L521.6,388.7 L506,390.8 Z" fill="#f8f8f8" stroke="#111" stroke-width="1.1"/>
<path d="M506,390.8 L494.2,416.1" stroke="#111" stroke-width="1.6"/>
<path d="M500,410 L501,426 M505,404 L506,425 M512,398 L514,420 M518,396 L519,412 M522,398 L523,406" stroke="#111" stroke-width="0.9"/>
</g>
</svg></body></html>
